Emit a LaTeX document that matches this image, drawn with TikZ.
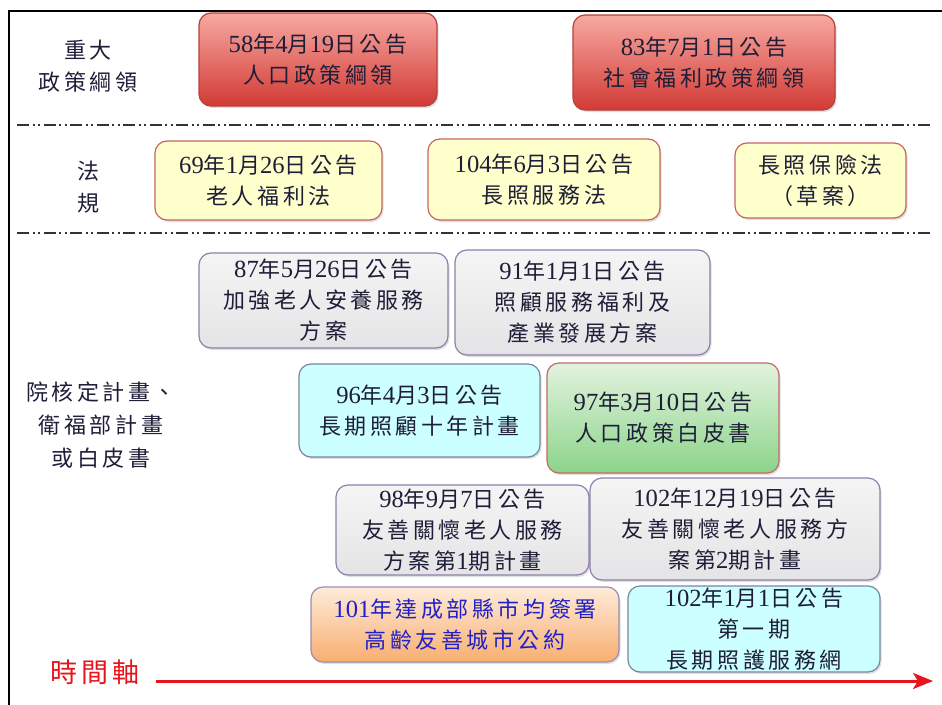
\documentclass[tikz,border=0pt]{standalone}
\usepackage{fontspec}
\setmainfont{Noto Sans CJK TC}[LetterSpace=16]
\newfontfamily\latf{Liberation Serif}[Scale=1.12]
\newcommand\nb[1]{{\latf #1}}
\usetikzlibrary{shadows,arrows.meta}
\definecolor{txt}{HTML}{1E1E38}
\definecolor{redA}{HTML}{F7A9A2}
\definecolor{redB}{HTML}{D23A34}
\definecolor{redD}{HTML}{B8403C}
\definecolor{yelF}{HTML}{FFFFCC}
\definecolor{yelD}{HTML}{C8645F}
\definecolor{grA}{HTML}{F5F5F5}
\definecolor{grB}{HTML}{E4E4E6}
\definecolor{grD}{HTML}{8E80AA}
\definecolor{cyF}{HTML}{CCFFFF}
\definecolor{cyD}{HTML}{7886A0}
\definecolor{gnA}{HTML}{E2F3DE}
\definecolor{gnB}{HTML}{8CD48A}
\definecolor{gnD}{HTML}{C46A66}
\definecolor{orA}{HTML}{FEEBDA}
\definecolor{orB}{HTML}{F8AE70}
\definecolor{orD}{HTML}{9C8CAA}
\definecolor{axis}{HTML}{E8141B}
\definecolor{blu}{HTML}{2020C8}
\begin{document}
\begin{tikzpicture}[x=1pt,y=-1pt,
  box/.style={rounded corners=12pt, align=center, inner sep=0pt, line width=1.2pt,
    font=\fontsize{22}{31}\selectfont, text=txt,
    drop shadow={opacity=0.25, shadow xshift=1.5pt, shadow yshift=-2pt}},
  redbox/.style={box, top color=redA, bottom color=redB, draw=redD},
  yelbox/.style={box, fill=yelF, draw=yelD},
  graybox/.style={box, top color=grA, bottom color=grB, draw=grD},
  cyanbox/.style={box, fill=cyF, draw=cyD},
  greenbox/.style={box, top color=gnA, bottom color=gnB, draw=gnD},
  orangebox/.style={box, top color=orA, bottom color=orB, draw=orD},
  lab/.style={align=center, inner sep=0pt, text=txt, font=\fontsize{22}{32}\selectfont},
  sep/.style={line width=2.4pt, color=black!80, dash pattern=on 12pt off 3.5pt on 2pt off 3.5pt on 2pt off 3.5pt}
]
\useasboundingbox (0,0) rectangle (942,704);
% frame
\draw[line width=2pt] (9,720) -- (9,11) -- (960,11);
% separators
\coordinate (s1a) at (17,125); \coordinate (s1b) at (932,125);
\coordinate (s2a) at (17,233); \coordinate (s2b) at (932,233);
\draw[sep] (s1a) -- (s1b);
\draw[sep] (s2a) -- (s2b);
% left labels
\node[lab] (l1) at (88,66) {重大\\政策綱領};
\node[lab] (l2) at (88,187) {法\\規};
\node[lab, font=\fontsize{22}{33}\selectfont] (l3) at (101,425) {院核定計畫、\\衛福部計畫\\或白皮書};
% row 1
\node[redbox, minimum width=238pt, minimum height=93pt] (r1) at (318,59.5) {\nb{58}年\nb{4}月\nb{19}日公告\\人口政策綱領};
\node[redbox, minimum width=262pt, minimum height=95pt] (r2) at (704,62.5) {\nb{83}年\nb{7}月\nb{1}日公告\\社會福利政策綱領};
% row 2
\node[yelbox, minimum width=227pt, minimum height=79pt] (y1) at (268.5,180.5) {\nb{69}年\nb{1}月\nb{26}日公告\\老人福利法};
\node[yelbox, minimum width=232pt, minimum height=81pt] (y2) at (544,179.5) {\nb{104}年\nb{6}月\nb{3}日公告\\長照服務法};
\node[yelbox, minimum width=171pt, minimum height=75pt] (y3) at (820.5,180.5) {長照保險法\\（草案）};
% row 3
\node[graybox, minimum width=249pt, minimum height=95pt] (g1) at (323.5,300.5) {\nb{87}年\nb{5}月\nb{26}日公告\\加強老人安養服務\\方案};
\node[graybox, minimum width=255pt, minimum height=105pt] (g2) at (582.5,302.5) {\nb{91}年\nb{1}月\nb{1}日公告\\照顧服務福利及\\產業發展方案};
\node[cyanbox, minimum width=241pt, minimum height=93pt] (c1) at (419.5,410.5) {\nb{96}年\nb{4}月\nb{3}日公告\\長期照顧十年計畫};
\node[greenbox, minimum width=232pt, minimum height=110pt] (gr) at (663,418) {\nb{97}年\nb{3}月\nb{10}日公告\\人口政策白皮書};
\node[graybox, minimum width=253pt, minimum height=90pt] (g3) at (462.5,530) {\nb{98}年\nb{9}月\nb{7}日公告\\友善關懷老人服務\\方案第\nb{1}期計畫};
\node[graybox, minimum width=290pt, minimum height=102pt] (g4) at (735,529) {\nb{102}年\nb{12}月\nb{19}日公告\\友善關懷老人服務方\\案第\nb{2}期計畫};
\node[orangebox, minimum width=308pt, minimum height=75pt, text=blu] (o1) at (465,624.5) {\nb{101}年達成部縣市均簽署\\高齡友善城市公約};
\node[cyanbox, minimum width=252pt, minimum height=86pt] (c2) at (754,629) {\nb{102}年\nb{1}月\nb{1}日公告\\第一期\\長期照護服務網};
% time axis
\node[inner sep=0pt, text=axis, font=\fontsize{27}{30}\selectfont] (tl) at (95,672) {時間軸};
\coordinate (ta) at (156,681);
\coordinate (tb) at (933,681);
\draw[axis, line width=3pt, -{Stealth[length=20pt, width=16pt, inset=5pt]}] (ta) -- (tb);
\end{tikzpicture}
\end{document}
